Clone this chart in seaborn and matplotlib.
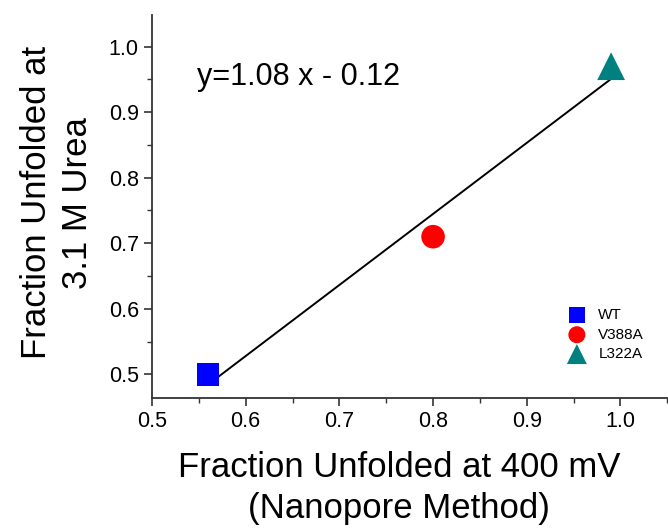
import matplotlib
matplotlib.use('Agg')
import matplotlib.pyplot as plt
import pandas as pd
import seaborn as sns
from matplotlib.ticker import MultipleLocator

# values
mutants = ["WT", "V388A", "L322A"]
frac_400mv = [0.56, 0.80, 0.99]
frac_urea = [0.50, 0.71, 0.97]
colors = {"WT": "#0000FF", "V388A": "#FF0000", "L322A": "#008080"}
markers = {"WT": "s", "V388A": "o", "L322A": "^"}
sizes = {"WT": 16, "V388A": 17, "L322A": 20}

df = pd.DataFrame({"mutant": mutants, "x": frac_400mv, "y": frac_urea})

sns.set_style("ticks")
plt.rcParams['font.family'] = ['Liberation Sans', 'DejaVu Sans']
plt.rcParams['text.color'] = 'black'
plt.rcParams['axes.labelcolor'] = 'black'
plt.rcParams['xtick.labelcolor'] = 'black'
plt.rcParams['ytick.labelcolor'] = 'black'

fig = plt.figure(figsize=(6.68, 5.29), dpi=100)
ax = fig.add_axes([0.2275, 0.2476, 0.7715, 0.724])

# fit line through the three points
sns.regplot(data=df, x="x", y="y", scatter=False, ci=None, ax=ax,
            line_kws={"color": "black", "lw": 1.4})

for m in mutants:
    sub = df[df.mutant == m]
    sns.scatterplot(data=sub, x="x", y="y", ax=ax, marker=markers[m],
                    color=colors[m], s=sizes[m] ** 2, edgecolor="none",
                    label=m, zorder=3)

ax.text(0.548, 0.941, "y=1.08 x - 0.12", fontsize=22, va="baseline", ha="left")

ax.set_xlim(0.5, 1.05)
ax.set_ylim(0.464, 1.048)
ax.xaxis.set_major_locator(MultipleLocator(0.1))
ax.xaxis.set_minor_locator(MultipleLocator(0.05))
ax.yaxis.set_major_locator(MultipleLocator(0.1))
ax.yaxis.set_minor_locator(MultipleLocator(0.05))
ax.xaxis.set_major_formatter(plt.FormatStrFormatter('%.1f'))
ax.yaxis.set_major_formatter(plt.FormatStrFormatter('%.1f'))
ax.tick_params(which="major", direction="out", length=6, width=1.2,
               labelsize=15.5, color="#333333")
ax.tick_params(which="minor", direction="out", length=3.5, width=1.0,
               color="#333333")
for side in ["top", "right"]:
    ax.spines[side].set_visible(False)
for side in ["left", "bottom"]:
    ax.spines[side].set_linewidth(1.3)
    ax.spines[side].set_color("#333333")

ax.set_xlabel("Fraction Unfolded at 400 mV\n(Nanopore Method)", fontsize=25,
              linespacing=1.3)
ax.set_ylabel("Fraction Unfolded at\n3.1 M Urea", fontsize=25, linespacing=1.3)
ax.xaxis.set_label_coords(0.48, -0.139, transform=ax.transAxes)
ax.xaxis.label.set_va("top")
ax.yaxis.set_label_coords(-0.113, 0.51, transform=ax.transAxes)

ax.legend(loc="upper left", bbox_to_anchor=(0.78, 0.254), frameon=False,
          fontsize=11, markerscale=0.72, handletextpad=0.4, labelspacing=0.35,
          borderpad=0)

fig.savefig("out.png", dpi=100)
